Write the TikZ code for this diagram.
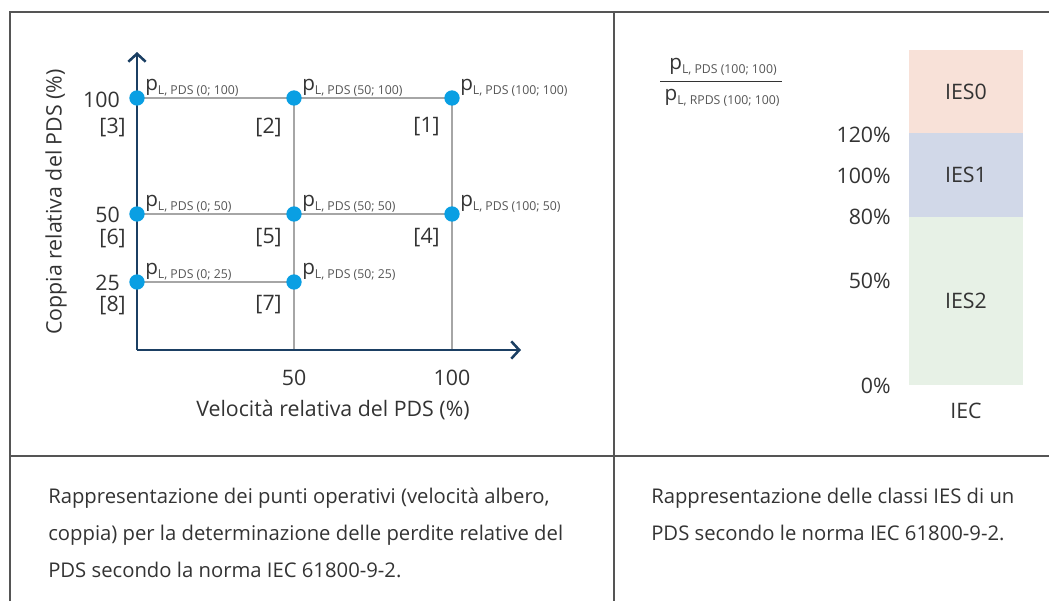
\documentclass[tikz,border=0pt]{standalone}
\usepackage{fontspec}
\setmainfont{Open Sans}
\usetikzlibrary{arrows.meta}
\definecolor{navy}{HTML}{1B3F63}
\definecolor{dotblue}{HTML}{0A9FE3}
\definecolor{gridgray}{HTML}{A6A6A6}
\definecolor{txt}{HTML}{333333}
\definecolor{subg}{HTML}{555555}
\definecolor{ieszero}{HTML}{F8E1D8}
\definecolor{iesone}{HTML}{D1D8E8}
\definecolor{iestwo}{HTML}{E7F1E6}
\definecolor{framec}{HTML}{555555}
\newcommand{\plab}[1]{{\fontsize{15.5}{16}\selectfont p}\raisebox{-3pt}{\fontsize{9.2}{10}\selectfont\color{subg}L, #1}}
\tikzset{
  dot/.style={circle, fill=dotblue, inner sep=0pt, minimum size=11.5pt},
  gridline/.style={draw=gridgray, line width=0.9pt},
  axisline/.style={draw=navy, line width=1.9pt, -{Straight Barb[length=6pt,width=13pt,line width=1.9pt]}},
  framel/.style={draw=framec, line width=1.1pt},
  lab/.style={inner sep=0pt, text=txt, font=\fontsize{16}{18}\selectfont},
  plabel/.style={inner sep=0pt, text=txt, anchor=base west},
  ies/.style={inner sep=0pt, text=txt, font=\fontsize{16}{18}\selectfont},
  para/.style={inner sep=0pt, text=txt, align=left, anchor=north west, font=\fontsize{15.2}{27.75}\selectfont}
}
\begin{document}
\begin{tikzpicture}[x=0.75pt,y=-0.75pt]
\useasboundingbox (0,0) rectangle (1049,601);
% table frame
\coordinate (tl) at (10,12);
\coordinate (tr) at (1049,12);
\coordinate (bl) at (10,601);
\coordinate (tm) at (614,12);
\coordinate (bm) at (614,601);
\coordinate (ml) at (10,456);
\coordinate (mr) at (1049,456);
\draw[framel] (bl) -- (tl) -- (tr);
\draw[framel] (tm) -- (bm);
\draw[framel] (ml) -- (mr);

% axes
\coordinate (o) at (137,350);
\coordinate (ytop) at (137,52);
\coordinate (xend) at (521,350);
\coordinate (x50) at (294,350);
\coordinate (x100) at (452,350);

% points
\coordinate (c0a) at (137,98);
\coordinate (c50a) at (294,98);
\coordinate (c100a) at (452,98);
\coordinate (c0b) at (137,214);
\coordinate (c50b) at (294,214);
\coordinate (c100b) at (452,214);
\coordinate (c0c) at (137,282);
\coordinate (c50c) at (294,282);

\draw[gridline] (c0a) -- (c100a);
\draw[gridline] (c0b) -- (c100b);
\draw[gridline] (c0c) -- (c50c);
\draw[gridline] (c50a) -- (x50);
\draw[gridline] (c100a) -- (x100);

\draw[axisline] (o) -- (ytop);
\draw[axisline] (o) -- (xend);

\node[dot] (p3) at (c0a) {};
\node[dot] (p2) at (c50a) {};
\node[dot] (p1) at (c100a) {};
\node[dot] (p6) at (c0b) {};
\node[dot] (p5) at (c50b) {};
\node[dot] (p4) at (c100b) {};
\node[dot] (p8) at (c0c) {};
\node[dot] (p7) at (c50c) {};

\node[plabel] (l3) at (145,90) {\plab{PDS (0; 100)}};
\node[plabel] (l2) at (302,90) {\plab{PDS (50; 100)}};
\node[plabel] (l1) at (460,90) {\plab{PDS (100; 100)}};
\node[plabel] (l6) at (145,206) {\plab{PDS (0; 50)}};
\node[plabel] (l5) at (302,206) {\plab{PDS (50; 50)}};
\node[plabel] (l4) at (460,206) {\plab{PDS (100; 50)}};
\node[plabel] (l8) at (145,274) {\plab{PDS (0; 25)}};
\node[plabel] (l7) at (302,274) {\plab{PDS (50; 25)}};

\node[lab, anchor=east] (y100) at (120,100) {100};
\node[lab, anchor=east] (y50) at (120,215) {50};
\node[lab, anchor=east] (y25) at (120,283) {25};
\node[lab, anchor=east] (n3) at (126,127) {[3]};
\node[lab, anchor=east] (n2) at (282,127) {[2]};
\node[lab, anchor=east] (n1) at (440,127) {[1]};
\node[lab, anchor=east] (n6) at (126,238) {[6]};
\node[lab, anchor=east] (n5) at (282,238) {[5]};
\node[lab, anchor=east] (n4) at (440,238) {[4]};
\node[lab, anchor=east] (n8) at (126,305) {[8]};
\node[lab, anchor=east] (n7) at (282,305) {[7]};

\node[lab] (tx50) at (294,378) {50};
\node[lab] (tx100) at (452,378) {100};
\node[lab] (xtitle) at (333,410) {Velocità relativa del PDS (\%)};
\node[lab, rotate=90] (ytitle) at (56,202) {Coppia relativa del PDS (\%)};

% right panel
\node[plabel, anchor=center] (num) at (723,67) {\plab{PDS (100; 100)}};
\node[plabel, anchor=center] (den) at (722,98) {\plab{RPDS (100; 100)}};
\coordinate (fl) at (660,81);
\coordinate (fr) at (782,81);
\draw[draw=txt, line width=0.7pt] (fl) -- (fr);

\fill[ieszero] (909,50) rectangle (1023,133);
\fill[iesone] (909,133) rectangle (1023,217);
\fill[iestwo] (909,217) rectangle (1023,385);
\node[ies] (ies0) at (966,92) {IES0};
\node[ies] (ies1) at (966,175) {IES1};
\node[ies] (ies2) at (966,301) {IES2};
\node[ies] (iec) at (966,411) {IEC};

\node[lab, anchor=east] (pc120) at (891,135) {120\%};
\node[lab, anchor=east] (pc100) at (891,176) {100\%};
\node[lab, anchor=east] (pc80) at (891,217) {80\%};
\node[lab, anchor=east] (pc50) at (891,281) {50\%};
\node[lab, anchor=east] (pc0) at (891,386) {0\%};

% captions
\node[para] (cap1) at (48,488) {Rappresentazione dei punti operativi (velocità albero,\\coppia) per la determinazione delle perdite relative del\\PDS secondo la norma IEC 61800-9-2.};
\node[para] (cap2) at (651,488) {Rappresentazione delle classi IES di un\\PDS secondo le norma IEC 61800-9-2.};
\end{tikzpicture}
\end{document}
